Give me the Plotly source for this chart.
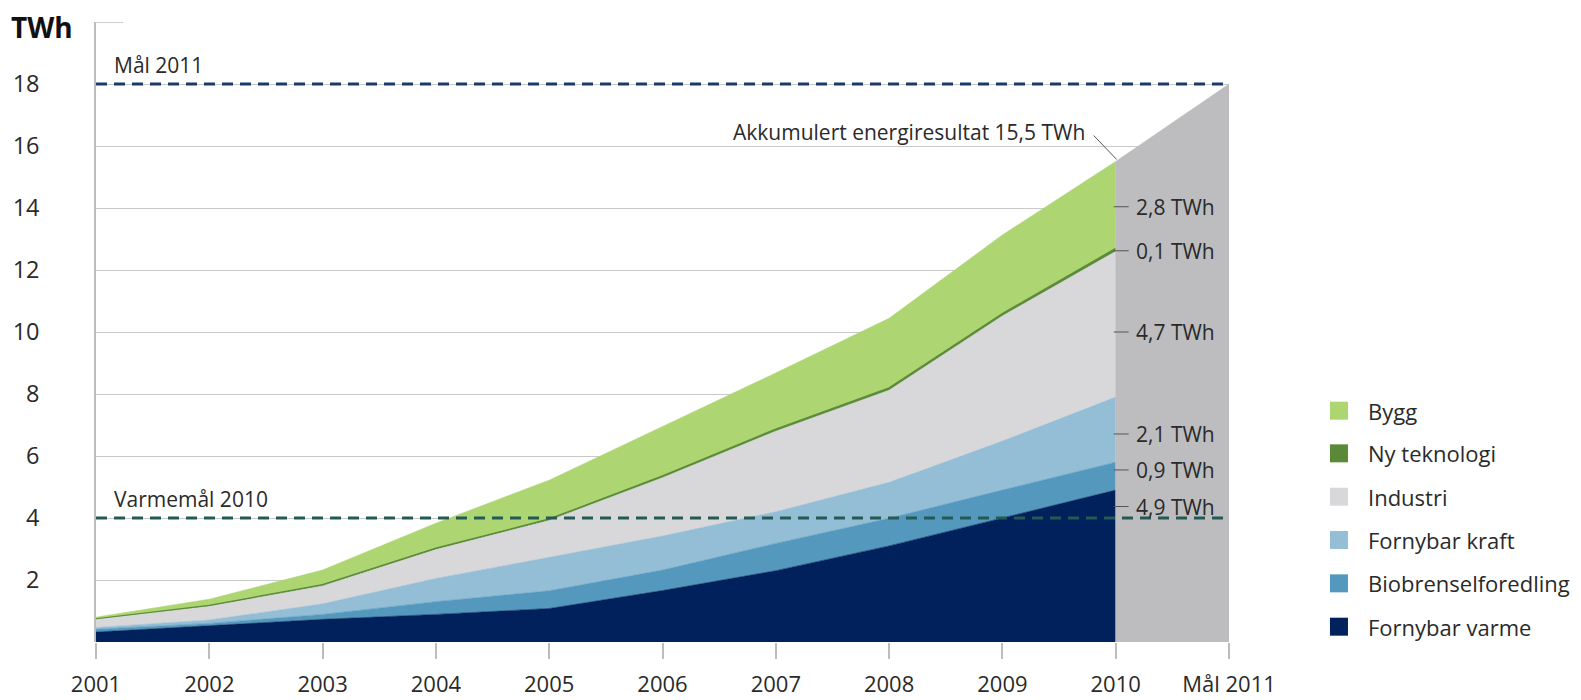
import plotly.graph_objects as go

years = ["2001", "2002", "2003", "2004", "2005", "2006", "2007", "2008", "2009", "2010"]
goal_label = "Mål 2011"

fornybar_varme = [0.32, 0.52, 0.73, 0.89, 1.08, 1.66, 2.30, 3.10, 3.99, 4.90]
biobrensel = [0.09, 0.08, 0.16, 0.41, 0.57, 0.66, 0.88, 0.89, 0.91, 0.90]
fornybar_kraft = [0.06, 0.11, 0.34, 0.75, 1.08, 1.10, 1.02, 1.16, 1.58, 2.10]
industri = [0.26, 0.44, 0.58, 0.93, 1.19, 1.88, 2.60, 2.97, 4.04, 4.70]
ny_teknologi = [0.02, 0.03, 0.04, 0.05, 0.05, 0.06, 0.07, 0.08, 0.08, 0.10]
bygg = [0.05, 0.20, 0.47, 0.80, 1.25, 1.59, 1.81, 2.24, 2.53, 2.80]

goal_2011 = 18.0
varmemal_2010 = 4.0

series_names = ["Fornybar varme", "Biobrenselforedling", "Fornybar kraft", "Industri", "Ny teknologi", "Bygg"]
series_values = [fornybar_varme, biobrensel, fornybar_kraft, industri, ny_teknologi, bygg]
series_colors = ["#00215B", "#5499BD", "#94BDD6", "#D8D8DA", "#5A8A38", "#ADD572"]

seg_labels = ["4,9 TWh", "0,9 TWh", "2,1 TWh", "4,7 TWh", "0,1 TWh", "2,8 TWh"]
seg_label_pos = [4.37, 5.55, 6.71, 10.0, 12.62, 14.04]

y_ticks = [2, 4, 6, 8, 10, 12, 14, 16, 18]

FONT = "Open Sans"
TXT = "#2a2a2a"
ANN = 21

x_idx = list(range(len(years)))
all_ticks = years + [goal_label]

fig = go.Figure()

for name, vals, col in zip(series_names, series_values, series_colors):
    lw = 1.2 if name == "Ny teknologi" else 0.6
    fig.add_trace(go.Scatter(
        x=x_idx, y=vals, name=name, mode="lines", stackgroup="one",
        line=dict(color=col, width=lw), fillcolor=col, showlegend=False,
        hoverinfo="skip"))

total_2010 = sum(v[-1] for v in series_values)
last = len(years) - 1
fig.add_trace(go.Scatter(
    x=[last, last, last + 1, last + 1], y=[0, total_2010, goal_2011, 0],
    mode="lines", fill="toself", fillcolor="#BDBDBF",
    line=dict(color="#BDBDBF", width=0.5), showlegend=False, hoverinfo="skip"))

fig.add_trace(go.Scatter(
    x=[0, last + 1], y=[goal_2011, goal_2011], mode="lines",
    line=dict(color="#1B3A6B", width=3, dash="11px,7px"), showlegend=False, hoverinfo="skip"))
fig.add_trace(go.Scatter(
    x=[0, last + 1], y=[varmemal_2010, varmemal_2010], mode="lines",
    line=dict(color="#245A55", width=3, dash="11px,7px"), showlegend=False, hoverinfo="skip"))

annotations = []
shapes = []

# segment labels at 2010
for lab, pos in zip(seg_labels, seg_label_pos):
    shapes.append(dict(type="line", xref="x", yref="y", xsizemode="pixel", xanchor=last,
                       x0=-2, x1=13, y0=pos, y1=pos, line=dict(color="#555555", width=1)))
    annotations.append(dict(x=last, y=pos, xref="x", yref="y", text=lab, showarrow=False,
                            xanchor="left", yanchor="middle", xshift=18,
                            font=dict(family=FONT, size=ANN, color=TXT)))

# accumulated result
shapes.append(dict(type="line", xref="x", yref="y", xsizemode="pixel", ysizemode="pixel",
                   xanchor=last, yanchor=total_2010, x0=-22, x1=1, y0=26, y1=2,
                   line=dict(color="#555555", width=1)))
annotations.append(dict(x=last, y=total_2010, xref="x", yref="y",
                        text="Akkumulert energiresultat 15,5 TWh", showarrow=False,
                        xanchor="right", yanchor="middle", xshift=-29, yshift=30,
                        font=dict(family=FONT, size=ANN, color=TXT)))

annotations.append(dict(x=0, y=goal_2011, xref="x", yref="y", text="Mål 2011", showarrow=False,
                        xanchor="left", yanchor="middle", xshift=16, yshift=19,
                        font=dict(family=FONT, size=ANN, color=TXT)))
annotations.append(dict(x=0, y=varmemal_2010, xref="x", yref="y", text="Varmemål 2010", showarrow=False,
                        xanchor="left", yanchor="middle", xshift=16, yshift=19,
                        font=dict(family=FONT, size=ANN, color=TXT)))

# TWh unit label and short top tick
annotations.append(dict(x=0, y=20, xref="paper", yref="y", text="<b>TWh</b>", showarrow=False,
                        xanchor="right", yanchor="middle", xshift=-21, yshift=-5,
                        font=dict(family=FONT, size=28, color="#111111")))
shapes.append(dict(type="line", xref="paper", yref="y", x0=0, x1=0.024, y0=20, y1=20,
                   line=dict(color="#BDBDBD", width=1.5)))

# legend (manual), top to bottom
leg_order = list(reversed(range(len(series_names))))
leg_y = [0.3731, 0.3043, 0.2343, 0.1645, 0.0946, 0.0247]
for row, i in enumerate(leg_order):
    yc = leg_y[row]
    shapes.append(dict(type="rect", xref="paper", yref="paper", x0=1.0891, x1=1.1050,
                       y0=yc - 0.0145, y1=yc + 0.0145, fillcolor=series_colors[i],
                       line=dict(width=0)))
    annotations.append(dict(x=1.1210, y=yc, xref="paper", yref="paper", text=series_names[i],
                            showarrow=False, xanchor="left", yanchor="middle",
                            font=dict(family=FONT, size=22, color=TXT)))

# the page body adds an 8px offset at top/left, so the figure is 8px smaller on each axis
fig.update_layout(
    width=1573, height=692,
    margin=dict(l=88, r=352, t=14, b=58, autoexpand=False),
    paper_bgcolor="white", plot_bgcolor="white",
    showlegend=False,
    font=dict(family=FONT, size=20, color=TXT),
    xaxis=dict(range=[0, last + 1], tickmode="array", tickvals=list(range(len(all_ticks))),
               ticktext=all_ticks, showgrid=False, zeroline=False, showline=False,
               ticks="outside", ticklen=16, tickwidth=1.5, tickcolor="#BDBDBD", automargin=False,
               ticklabelstandoff=7, tickfont=dict(family=FONT, size=22, color=TXT)),
    yaxis=dict(range=[0, 20], tickmode="array", tickvals=y_ticks, automargin=False,
               ticktext=[str(t) for t in y_ticks], showgrid=True, gridcolor="#C9C9C9",
               gridwidth=1.2, zeroline=False, showline=True, linecolor="#BDBDBD", linewidth=1.5,
               ticks="", ticklabelstandoff=50, tickfont=dict(family=FONT, size=23.5, color=TXT)),
    shapes=shapes, annotations=annotations,
)

fig.write_html("out.html")
